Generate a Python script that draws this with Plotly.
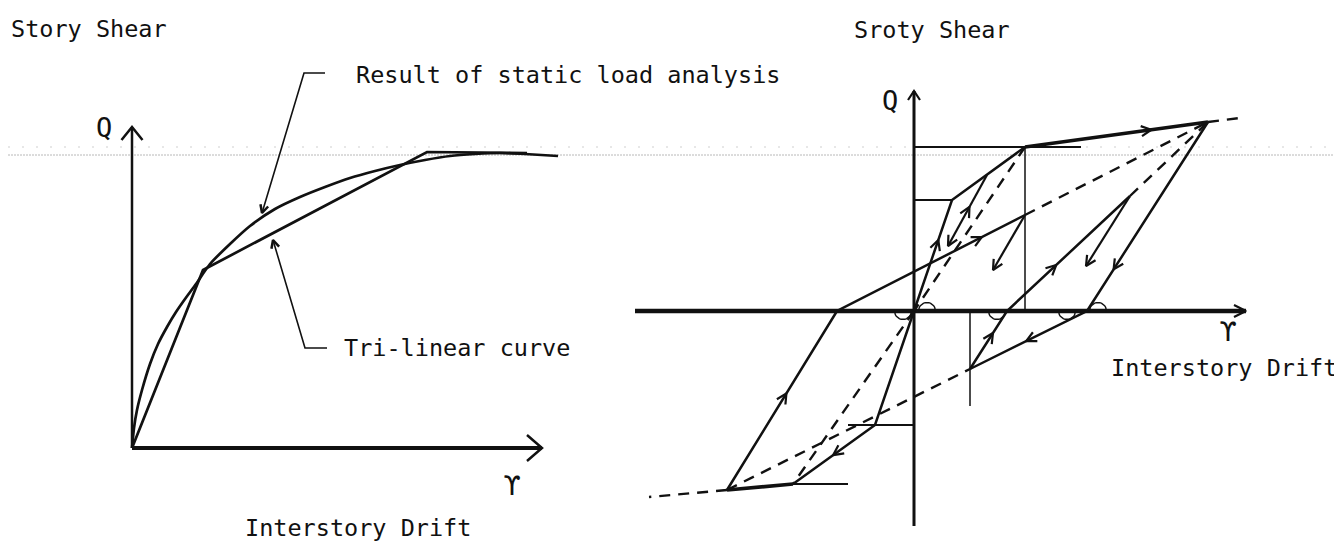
import numpy as np
import plotly.graph_objects as go

# ---------------- Left panel: static load analysis vs tri-linear (gamma, Q; arbitrary units)
static_gamma = [0, 0.2, 0.5, 1.0, 1.8, 2.6, 3.5, 4.4, 5.3, 6.4, 7.8, 9.8, 11.8, 14.3, 16.8,
                19.3, 21.8, 24.3, 26.8, 29.3, 31.8, 34.3, 36.8, 39.3, 42.6]
static_Q = [0, 2.0, 3.8, 5.8, 8.4, 10.4, 12.1, 13.6, 14.9, 16.4, 18.4, 20.4, 22.2, 23.9, 25.1,
            26.1, 27.0, 27.7, 28.3, 28.8, 29.2, 29.4, 29.5, 29.4, 29.2]
trilinear_gamma = [0, 7.1, 29.5, 39.5]
trilinear_Q = [0, 17.8, 29.6, 29.5]
leader_result_gamma = [19.3, 17.2, 13.0]
leader_result_Q = [37.5, 37.5, 23.5]
leader_tri_gamma = [19.5, 17.3, 14.1]
leader_tri_Q = [10.0, 10.0, 20.8]

# ---------------- Right panel: hysteresis (gamma, Q)
skel_pos_gamma = [0, 3.8, 11.1, 29.4]
skel_pos_Q = [0, 11.1, 16.4, 18.9]
skel_neg_gamma = [0, -3.9, -12.1, -18.7]
skel_neg_Q = [0, -11.4, -17.3, -17.9]
reload_big_gamma = [-18.7, -7.7, 11.1]
reload_big_Q = [-17.9, 0, 9.6]
unload_big_gamma = [29.4, 17.3, 5.6]
unload_big_Q = [18.9, 0, -5.8]
reload_small_gamma = [5.6, 9.3, 21.6]
reload_small_Q = [-5.8, 0, 11.5]
inner_gamma = [7.3, 3.4]
inner_Q = [13.6, 6.5]
unloadC_gamma = [11.1, 7.9]
unloadC_Q = [9.6, 4.1]
unloadE_gamma = [21.6, 17.2]
unloadE_Q = [11.5, 4.5]

dashed_paths = [
    ([29.4, 32.6], [18.9, 19.3]),
    ([-18.7, -26.5], [-17.9, -18.6]),
    ([11.1, 29.4], [9.6, 18.9]),
    ([21.6, 29.4], [11.5, 18.9]),
    ([11.1, 0], [16.4, 0]),
    ([0, -12.1], [0, -17.3]),
    ([-18.7, 5.6], [-17.9, -5.8]),
]
ref_lines = [
    ([0, 16.7], [16.4, 16.4]),
    ([0, 3.8], [11.1, 11.1]),
    ([-6.6, 0], [-11.4, -11.4]),
    ([-12.1, -6.6], [-17.3, -17.3]),
    ([11.1, 11.1], [16.4, 0]),
    ([5.6, 5.6], [0, -9.5]),
]
arc_centers = [1.3, 18.4, 8.3, -1.1, 15.3]
arc_sides = [1, 1, -1, -1, -1]

INK = "#111111"
FONT = "DejaVu Sans Mono"
FS = 23.5

# the page body adds an 8px margin; the figure is sized to fill the rest of the window
W, H = 1334, 534
LEFT_W = 592


def vmark(p0, p1, t, back=1.0, spread=0.5):
    x0, y0 = p0
    x1, y1 = p1
    dx, dy = x1 - x0, y1 - y0
    L = float(np.hypot(dx, dy))
    ux, uy = dx / L, dy / L
    tx, ty = x0 + t * dx, y0 + t * dy
    bx, by = tx - back * ux, ty - back * uy
    px, py = -uy, ux
    return ([bx + spread * px, tx, bx - spread * px, None],
            [by + spread * py, ty, by - spread * py, None])


def collect(marks):
    xs, ys = [], []
    for m in marks:
        a, b = vmark(*m)
        xs += a
        ys += b
    return xs, ys


fig = go.Figure()


def line(x, y, w=2.5, dash=None, xa="x", ya="y", shape="linear", color=INK):
    fig.add_trace(go.Scatter(x=x, y=y, mode="lines", xaxis=xa, yaxis=ya,
                             line=dict(color=color, width=w, dash=dash, shape=shape,
                                       smoothing=0.6 if shape == "spline" else None),
                             hoverinfo="skip"))


# ----- left panel
line([0, 0], [0, 32.1], w=2.5)
line([0, 41.0], [0, 0], w=4)
line(static_gamma, static_Q, w=2.7, shape="spline")
line(trilinear_gamma, trilinear_Q, w=2.7)
line(leader_result_gamma, leader_result_Q, w=1.6)
line(leader_tri_gamma, leader_tri_Q, w=1.6)
lx, ly = collect([
    ((0, 0), (0, 32.1), 1.0, 1.3, 1.05),
    ((0, 0), (41.0, 0), 1.0, 1.5, 1.3),
    ((leader_result_gamma[1], leader_result_Q[1]), (leader_result_gamma[2], leader_result_Q[2]), 1.0, 0.8, 0.4),
    ((leader_tri_gamma[1], leader_tri_Q[1]), (leader_tri_gamma[2], leader_tri_Q[2]), 1.0, 0.8, 0.4),
])
line(lx, ly, w=2.5)

# ----- right panel
R = dict(xa="x2", ya="y2")
line([-27.9, 33.2], [0, 0], w=4.5, **R)
line([0, 0], [-21.5, 22.0], w=3, **R)
for gx, gq in ref_lines:
    line(gx, gq, w=2.2 if gq[0] == gq[1] else 1.5, **R)
for gx, gq in dashed_paths:
    line(gx, gq, w=2.4, dash="11px,8px", **R)
line(skel_pos_gamma[:3], skel_pos_Q[:3], w=2.5, **R)
line(skel_pos_gamma[2:], skel_pos_Q[2:], w=3.6, **R)
line(skel_neg_gamma[:3], skel_neg_Q[:3], w=2.5, **R)
line(skel_neg_gamma[2:], skel_neg_Q[2:], w=3.6, **R)
line(reload_big_gamma, reload_big_Q, w=2.5, **R)
line(unload_big_gamma, unload_big_Q, w=2.5, **R)
line(reload_small_gamma, reload_small_Q, w=2.5, **R)
line(inner_gamma, inner_Q, w=2.2, **R)
line(unloadC_gamma, unloadC_Q, w=2.2, **R)
line(unloadE_gamma, unloadE_Q, w=2.2, **R)


def P(g, q, i):
    return (g[i], q[i])


rx, ry = collect([
    ((0, 0), (33.2, 0), 1.0, 1.2, 0.6),
    ((0, 0), (0, 22.0), 1.0, 0.9, 0.6),
    (P(skel_pos_gamma, skel_pos_Q, 2), P(skel_pos_gamma, skel_pos_Q, 3), 0.69),
    (P(skel_pos_gamma, skel_pos_Q, 0), P(skel_pos_gamma, skel_pos_Q, 1), 0.64),
    (P(inner_gamma, inner_Q, 0), P(inner_gamma, inner_Q, 1), 1.0),
    (P(inner_gamma, inner_Q, 1), P(inner_gamma, inner_Q, 0), 0.55),
    (P(reload_big_gamma, reload_big_Q, 1), P(reload_big_gamma, reload_big_Q, 2), 0.77),
    (P(reload_big_gamma, reload_big_Q, 0), P(reload_big_gamma, reload_big_Q, 1), 0.54),
    (P(unloadC_gamma, unloadC_Q, 0), P(unloadC_gamma, unloadC_Q, 1), 1.0),
    (P(skel_neg_gamma, skel_neg_Q, 1), P(skel_neg_gamma, skel_neg_Q, 2), 0.51),
    (P(unload_big_gamma, unload_big_Q, 0), P(unload_big_gamma, unload_big_Q, 1), 0.78),
    (P(unload_big_gamma, unload_big_Q, 1), P(unload_big_gamma, unload_big_Q, 2), 0.52),
    (P(reload_small_gamma, reload_small_Q, 0), P(reload_small_gamma, reload_small_Q, 1), 0.62),
    (P(reload_small_gamma, reload_small_Q, 1), P(reload_small_gamma, reload_small_Q, 2), 0.40),
    (P(unloadE_gamma, unloadE_Q, 0), P(unloadE_gamma, unloadE_Q, 1), 1.0),
])
line(rx, ry, w=2.2, **R)

# small angle arcs at axis crossings
th = np.linspace(0, np.pi, 15)
ax_, ay_ = [], []
for c, s in zip(arc_centers, arc_sides):
    ax_ += list(c + 0.85 * np.cos(th)) + [None]
    ay_ += list(s * 0.85 * np.sin(th)) + [None]
line(ax_, ay_, w=1.4, **R)


# ----- text
def text(s, x, y, xa, ya, size=FS, anchor="left"):
    fig.add_annotation(text=s, x=x, y=y, xref=xa, yref=ya, showarrow=False,
                       xanchor=anchor, yanchor="middle",
                       font=dict(family=FONT, size=size, color=INK))


text("Story Shear", -12.3, 41.9, "x", "y")
text("Result of static load analysis", 22.2, 37.3, "x", "y")
text("Tri-linear curve", 21.0, 10.0, "x", "y")
text("Interstory Drift", 22.6, -8.0, "x", "y", anchor="center")
text("Q", -2.8, 32.1, "x", "y", size=27, anchor="center")
text("ϒ", 38.0, -3.7, "x", "y", size=27, anchor="center")

text("Sroty Shear", -6.2, 28.1, "x2", "y2")
text("Interstory Drift", 19.5, -5.7, "x2", "y2")
text("Q", -2.4, 21.1, "x2", "y2", size=27, anchor="center")
text("ϒ", 31.4, -2.0, "x2", "y2", size=27, anchor="center")

# faint scanner streaks across the page
fig.add_shape(type="line", xref="paper", yref="paper", x0=0, x1=1,
              y0=1 - (155 - 8) / H, y1=1 - (155 - 8) / H,
              line=dict(color="#b8b8b8", width=1, dash="2px,1px"), layer="below")
fig.add_shape(type="line", xref="paper", yref="paper", x0=0, x1=1,
              y0=1 - (147 - 8) / H, y1=1 - (147 - 8) / H,
              line=dict(color="#cfcfcf", width=1, dash="2px,12px"), layer="below")

ax_common = dict(visible=False, showgrid=False, zeroline=False, fixedrange=True)
fig.update_layout(
    width=W, height=H, margin=dict(l=0, r=0, t=0, b=0),
    paper_bgcolor="white", plot_bgcolor="white", showlegend=False,
    xaxis=dict(domain=[0, LEFT_W / W], range=[-12.4, 46.8], anchor="y", **ax_common),
    yaxis=dict(domain=[0, 1], range=[-9.4, 44.0], anchor="x", **ax_common),
    xaxis2=dict(domain=[LEFT_W / W, 1], range=[-31.4, 42.8], anchor="y2", **ax_common),
    yaxis2=dict(domain=[0, 1], range=[-23.1, 30.3], anchor="x2", **ax_common),
)

fig.write_html("out.html")
